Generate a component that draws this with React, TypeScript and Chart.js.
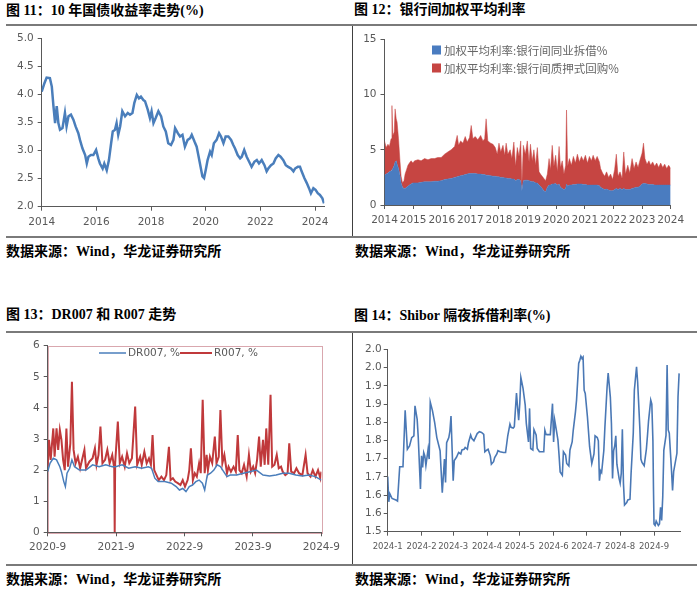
import React, { useEffect, useRef } from "react";
import { Chart, registerables } from "chart.js";
Chart.register(...registerables);

// ---------------- 图 11：10 年国债收益率 ----------------
const bondYears = [
  2014.0, 2014.1, 2014.18, 2014.3, 2014.37, 2014.43, 2014.49, 2014.55, 2014.61, 2014.67, 2014.76, 2014.85, 2014.91, 2014.98,
  2015.07, 2015.16, 2015.24, 2015.34, 2015.4, 2015.49, 2015.59, 2015.65, 2015.71, 2015.8, 2015.89, 2015.99,
  2016.07, 2016.13, 2016.23, 2016.29, 2016.38, 2016.46, 2016.54, 2016.6, 2016.68, 2016.74, 2016.8, 2016.87, 2016.95,
  2017.05, 2017.15, 2017.23, 2017.32, 2017.39, 2017.48, 2017.56, 2017.63, 2017.72, 2017.78, 2017.88, 2017.96,
  2018.02, 2018.09, 2018.17, 2018.27, 2018.37, 2018.45, 2018.54, 2018.63, 2018.73, 2018.82, 2018.88, 2018.98,
  2019.06, 2019.15, 2019.24, 2019.34, 2019.43, 2019.49, 2019.59, 2019.67, 2019.73, 2019.79, 2019.88, 2019.94,
  2020.0, 2020.07, 2020.16, 2020.22, 2020.3, 2020.4, 2020.49, 2020.56, 2020.65, 2020.73, 2020.83, 2020.93,
  2021.01, 2021.07, 2021.17, 2021.26, 2021.32, 2021.41, 2021.5, 2021.59, 2021.68, 2021.78, 2021.87, 2021.95,
  2022.05, 2022.15, 2022.23, 2022.29, 2022.39, 2022.48, 2022.56, 2022.66, 2022.74, 2022.84, 2022.93,
  2023.02, 2023.12, 2023.21, 2023.27, 2023.37, 2023.45, 2023.51, 2023.61, 2023.7, 2023.78, 2023.85, 2023.94,
  2024.02, 2024.1, 2024.18, 2024.27, 2024.33,
];
const bondYield = [
  4.05, 4.2, 4.3, 4.29, 4.14, 3.79, 3.49, 3.79, 3.49, 3.37, 3.4, 3.67, 3.43, 3.61,
  3.64, 3.55, 3.43, 3.31, 3.19, 3.04, 2.92, 2.77, 2.89, 2.92, 2.92, 3.01,
  2.86, 2.77, 2.68, 2.77, 2.65, 2.83, 3.13, 3.34, 3.37, 3.49, 3.28, 3.43, 3.7,
  3.61, 3.67, 3.64, 3.67, 3.85, 3.99, 3.93, 3.96, 3.9, 3.88, 3.73, 3.58,
  3.7, 3.49, 3.58, 3.7, 3.61, 3.43, 3.34, 3.13, 3.1, 3.19, 3.4, 3.31,
  3.25, 3.28, 3.07, 3.19, 3.22, 3.28, 3.16, 3.07, 2.92, 2.77, 2.54, 2.51,
  2.65, 2.83, 2.98, 2.92, 3.13, 3.19, 3.31, 3.25, 3.13, 3.25, 3.25, 3.19,
  3.1, 3.04, 2.92, 2.86, 2.89, 3.01, 2.89, 2.8, 2.71, 2.8, 2.83, 2.77,
  2.83, 2.74, 2.63, 2.68, 2.74, 2.77, 2.86, 2.92, 2.89, 2.83, 2.74,
  2.71, 2.68, 2.63, 2.68, 2.71, 2.71, 2.63, 2.51, 2.42, 2.33, 2.24, 2.33,
  2.3, 2.24, 2.21, 2.15, 2.06,
];
const bondXTicks = [2014, 2016, 2018, 2020, 2022, 2024];
const bondYTicks = [2.0, 2.5, 3.0, 3.5, 4.0, 4.5, 5.0];

// ---------------- 图 12：银行间加权平均利率 ----------------
const ibYears = [
  2014.0, 2014.06, 2014.12, 2014.17, 2014.23, 2014.26, 2014.29, 2014.34, 2014.37, 2014.41, 2014.44, 2014.49, 2014.54,
  2014.58, 2014.63, 2014.68, 2014.72, 2014.77, 2014.82, 2014.87, 2014.93, 2014.99,
  2015.05, 2015.17, 2015.28, 2015.4, 2015.52, 2015.63, 2015.75, 2015.86, 2015.98,
  2016.1, 2016.21, 2016.33, 2016.45, 2016.54, 2016.59, 2016.66, 2016.74, 2016.82, 2016.89, 2016.97,
  2017.03, 2017.09, 2017.17, 2017.26, 2017.36, 2017.44, 2017.5, 2017.55, 2017.61, 2017.71, 2017.79, 2017.87, 2017.94,
  2018.0, 2018.06, 2018.14, 2018.2, 2018.25, 2018.31, 2018.39, 2018.45, 2018.52, 2018.58, 2018.64, 2018.7, 2018.76,
  2018.8, 2018.85, 2018.92, 2018.99,
  2019.05, 2019.1, 2019.16, 2019.22, 2019.28, 2019.34, 2019.4, 2019.45, 2019.51, 2019.57, 2019.63, 2019.69, 2019.75,
  2019.8, 2019.86, 2019.92, 2019.98,
  2020.04, 2020.1, 2020.15, 2020.21, 2020.27, 2020.33, 2020.36, 2020.4, 2020.46, 2020.53, 2020.6, 2020.67, 2020.74,
  2020.81, 2020.88, 2020.95,
  2021.02, 2021.09, 2021.16, 2021.23, 2021.29, 2021.36, 2021.43, 2021.51, 2021.55, 2021.62, 2021.69, 2021.76, 2021.83,
  2021.9, 2021.97,
  2022.04, 2022.1, 2022.16, 2022.23, 2022.3, 2022.36, 2022.42, 2022.5, 2022.57, 2022.65, 2022.72, 2022.79, 2022.86, 2022.93,
  2023.0, 2023.05, 2023.1, 2023.17, 2023.24, 2023.3, 2023.37, 2023.44, 2023.51, 2023.58, 2023.65, 2023.72, 2023.79,
  2023.86, 2023.93, 2024.0,
];
const ibLending = [
  2.7, 2.8, 2.9, 3.0, 3.1, 3.2, 3.3, 3.6, 3.9, 4.0, 3.7, 3.3, 2.7,
  2.0, 1.6, 1.5, 1.5, 1.6, 1.7, 1.8, 1.9, 2.0,
  2.0, 2.0, 2.05, 2.1, 2.1, 2.1, 2.15, 2.15, 2.2,
  2.3, 2.35, 2.4, 2.5, 2.55, 2.6, 2.65, 2.7, 2.75, 2.8, 2.85,
  2.85, 2.85, 2.85, 2.8, 2.8, 2.75, 2.75, 2.7, 2.7, 2.65, 2.6, 2.6, 2.55,
  2.55, 2.5, 2.5, 2.45, 2.45, 2.4, 2.4, 2.35, 2.35, 2.2, 2.3, 2.3, 2.2,
  1.3, 2.2, 2.25, 2.25,
  2.2, 2.15, 2.1, 2.1, 2.0, 2.0, 1.8, 1.7, 1.5, 1.3, 1.2, 1.6, 1.8,
  1.8, 1.9, 1.9, 1.95,
  1.8, 1.9, 1.6, 1.5, 1.4, 1.5, 1.9, 1.7, 1.8, 1.8, 1.85, 1.85, 1.9,
  1.9, 1.9, 1.85,
  1.85, 1.8, 1.8, 1.8, 1.8, 1.8, 1.8, 1.75, 1.6, 1.5, 1.4, 1.45, 1.35,
  1.3, 1.3,
  1.4, 1.5, 1.4, 1.5, 1.4, 1.5, 1.4, 1.4, 1.4, 1.5, 1.55, 1.6, 1.6, 1.7,
  1.9, 1.95, 1.95, 1.9, 1.85, 1.85, 1.85, 1.8, 1.8, 1.8, 1.8, 1.8, 1.8,
  1.8, 1.8, 1.8,
];
const ibRepo = [
  3.1, 2.4, 2.6, 2.3, 2.9, 5.8, 3.0, 3.0, 4.8, 3.8, 3.8, 2.7, 1.3,
  0.6, 0.4, 0.7, 1.3, 1.6, 1.9, 2.0, 2.1, 1.8,
  2.0, 2.1, 1.95, 2.1, 2.0, 2.1, 2.05, 2.15, 2.1,
  2.3, 2.45, 2.6, 2.8, 3.75, 2.8, 3.15, 2.9, 3.45, 2.9, 3.25,
  4.35, 3.15, 3.35, 3.1, 3.5, 3.05, 3.25, 5.1, 3.1, 2.95, 2.9, 2.6, 2.05,
  3.05, 2.3, 2.9, 2.05, 3.15, 2.2, 2.6, 1.85, 3.35, 1.3, 2.9, 2.1, 3.6,
  0.5, 3.2, 2.35, 3.55,
  1.7, 3.35, 1.9, 2.9, 1.6, 3.2, 1.2, 1.1, 1.1, 1.1, 1.0, 1.2, 2.4,
  1.4, 3.5, 1.6, 2.55,
  1.2, 3.4, 1.8, 2.5, 1.4, 2.1, 6.7, 1.8, 2.4, 1.8, 2.55, 1.95, 2.7,
  2.0, 2.5, 2.15,
  2.65, 2.0, 2.6, 2.2, 2.7, 2.2, 2.6, 2.15, 1.7, 1.4, 1.2, 1.55, 1.15,
  1.5, 1.0,
  1.8, 3.1, 1.2, 1.5, 1.0, 3.3, 1.4, 2.2, 1.5, 2.7, 1.75, 2.3, 1.8, 2.4,
  2.8, 3.65, 2.25, 1.8, 2.15, 1.75, 2.05, 1.7, 2.0, 1.6, 2.0, 1.6, 1.9,
  1.5, 1.8, 1.5,
];
const ibXTicks = [2014, 2015, 2016, 2017, 2018, 2019, 2020, 2021, 2022, 2023, 2024];
const ibYTicks = [0, 5, 10, 15];
const ibLabels = ["加权平均利率:银行间同业拆借%", "加权平均利率:银行间质押式回购%"];

// ---------------- 图 13：DR007 和 R007 ----------------
// x = months since 2020-9
const drMonths = [
  0.0, 0.4, 0.98, 1.55, 2.13, 2.41, 2.82, 3.1, 3.39, 3.85, 4.25, 4.71, 5.57, 6.72, 7.87, 9.02, 10.17, 11.32, 11.9,
  13.05, 14.2, 15.34, 16.49, 17.64, 18.22, 18.79, 19.37, 20.52, 21.67, 22.53, 23.1, 23.68, 24.25, 24.83, 25.4,
  25.98, 26.55, 27.13, 27.53, 27.99, 28.56, 29.14, 29.71, 30.29, 30.86, 31.44, 32.01, 33.16, 34.31, 35.46,
  36.61, 37.76, 38.91, 40.06, 41.21, 42.36, 43.51, 44.66, 45.8, 46.95, 47.99,
];
const drValues = [
  1.95, 2.22, 2.38, 2.33, 2.11, 1.95, 1.63, 1.47, 1.9, 2.06, 2.33, 2.11, 2.0, 2.0, 2.17, 2.11, 2.17, 2.11, 2.11,
  2.17, 2.06, 2.11, 2.06, 2.11, 2.06, 1.74, 1.63, 1.63, 1.58, 1.47, 1.36, 1.41, 1.31, 1.47, 1.52,
  1.63, 1.68, 1.58, 1.36, 1.84, 1.9, 2.0, 2.17, 2.11, 1.95, 1.79, 1.84, 1.84, 1.9, 1.95,
  2.0, 1.84, 1.81, 1.84, 1.9, 1.9, 1.84, 1.81, 1.84, 1.79, 1.68,
];
const rMonths = [
  0.0, 0.23, 0.52, 0.98, 1.21, 1.55, 1.84, 2.13, 2.41, 2.7, 2.99, 3.28, 3.56, 3.97, 4.25, 4.54, 4.89, 5.29, 5.69,
  6.03, 6.44, 6.72, 7.3, 7.87, 8.28, 8.56, 8.91, 9.25, 9.6, 10.06, 10.46, 10.86, 11.32, 11.67, 11.75, 11.83,
  12.3, 12.64, 13.05, 13.51, 13.91, 14.31, 14.77, 15.34, 15.69, 16.21, 16.49, 16.95, 17.36, 17.76, 18.1, 18.39,
  18.68, 19.08, 19.48, 19.94, 20.4, 20.8, 21.26, 21.55, 21.95, 22.36, 22.82, 23.28, 23.68, 24.08, 24.54, 24.83,
  25.11, 25.46, 25.8, 26.15, 26.55, 26.84, 27.18, 27.53, 27.87, 28.1, 28.45, 28.85, 29.31, 29.6, 30.0, 30.29,
  30.63, 30.98, 31.44, 31.72, 32.13, 32.59, 32.99, 33.33, 33.62, 34.02, 34.43, 34.89, 35.29, 35.63, 36.03, 36.38,
  36.72, 37.07, 37.36, 37.76, 38.05, 38.33, 38.68, 39.08, 39.37, 39.77, 40.17, 40.52, 40.92, 41.21, 41.67, 42.07,
  42.36, 42.7, 43.22, 43.62, 44.08, 44.66, 45.23, 45.57, 46.09, 46.49, 46.95, 47.41, 47.82, 47.99,
];
const rValues = [
  2.11, 2.97, 2.33, 3.34, 2.43, 3.34, 2.65, 3.29, 2.97, 2.33, 2.0, 3.34, 2.11, 2.86, 4.84, 2.65, 2.22, 2.43, 2.06,
  2.33, 2.65, 2.06, 2.27, 2.38, 2.7, 2.17, 2.49, 3.4, 2.22, 2.33, 2.65, 2.22, 2.49, 2.06, 0.0, 2.22,
  3.56, 2.22, 2.43, 2.11, 2.54, 2.22, 2.38, 4.04, 2.17, 2.43, 2.17, 2.59, 2.22, 2.38, 2.17, 3.13,
  2.0, 1.84, 1.68, 1.79, 1.68, 1.84, 2.75, 1.68, 1.74, 1.63, 1.58, 1.52, 1.68, 1.47, 1.68, 2.0,
  2.7, 1.68, 1.9, 1.79, 2.22, 1.9, 4.26, 1.9, 2.49, 2.0, 2.43, 2.22, 3.08, 2.22, 2.43, 3.93,
  2.22, 2.49, 1.9, 2.11, 1.95, 2.11, 1.95, 3.13, 2.0, 1.9, 2.17, 1.79, 2.49, 1.95, 2.11, 1.9,
  2.33, 3.08, 2.11, 2.97, 2.17, 3.34, 2.17, 4.42, 2.11, 2.17, 2.49, 2.06, 2.11, 1.95, 1.84, 1.9,
  2.86, 1.95, 1.9, 2.06, 1.9, 1.84, 2.49, 1.9, 1.79, 2.0, 1.79, 2.0, 1.74, 1.95,
];
const repoXTicks = [0, 12, 24, 36, 48];
const repoXLabels = ["2020-9", "2021-9", "2022-9", "2023-9", "2024-9"];
const repoYTicks = [0, 1, 2, 3, 4, 5, 6];
const repoLabels = ["DR007, %", "R007, %"];

// ---------------- 图 14：Shibor 隔夜 ----------------
// x = days since 2024-01-01
const shiborDays = [
  0, 1, 2, 4, 8, 9, 11, 14, 16, 18, 20, 22, 24, 25, 27, 28, 30, 31, 32, 33, 34, 35, 37, 38, 39, 41, 43, 45, 48,
  50, 51, 52, 53, 54, 56, 57, 58, 60, 61, 63, 65, 67, 68, 70, 71, 73, 74, 76, 77, 79, 80, 82, 84, 86, 88, 89,
  91, 92, 94, 95, 97, 98, 100, 101, 103, 106, 108, 110, 112, 113, 115, 116, 118, 119, 120, 121, 122, 124, 126,
  127, 129, 130, 131, 133, 134, 136, 137, 139, 140, 143, 144, 145, 146, 149, 151, 152, 153, 154, 156, 157, 158,
  160, 161, 163, 164, 166, 167, 169, 170, 172, 173, 175, 176, 177, 178, 179, 180, 181, 183, 185, 187, 189, 190,
  192, 193, 194, 195, 196, 198, 199, 201, 202, 204, 205, 206, 207, 208, 209, 210, 212, 213, 214, 215, 216, 217,
  219, 220, 222, 223, 225, 226, 228, 229, 231, 232, 233, 235, 237, 238, 239, 241, 242, 243, 243.5, 244, 245,
  246, 248, 249, 250, 251, 252, 253, 255, 256, 257, 258, 260, 261, 262, 265, 266, 267,
];
const shiborRates = [
  1.651, 1.582, 1.604, 1.591, 1.586, 1.584, 1.678, 1.678, 1.833, 1.726, 1.735, 1.758, 1.763, 1.845, 1.808, 1.758,
  1.617, 1.708, 1.676, 1.717, 1.708, 1.681, 1.726, 1.699, 1.855, 1.832, 1.8, 1.758, 1.722,
  1.607, 1.653, 1.699, 1.635, 1.744, 1.758, 1.776, 1.817, 1.64, 1.695, 1.704, 1.717, 1.713, 1.724, 1.726, 1.731,
  1.726, 1.744, 1.765, 1.756, 1.749, 1.756, 1.769, 1.774, 1.772, 1.767, 1.719,
  1.724, 1.726, 1.708, 1.685, 1.692, 1.703, 1.713, 1.722, 1.719, 1.717, 1.717, 1.763, 1.795, 1.786, 1.784, 1.788,
  1.88, 1.841, 1.806, 1.85, 1.923, 1.893, 1.847,
  1.797, 1.746, 1.838, 1.728, 1.724, 1.78, 1.765, 1.728, 1.719, 1.719, 1.719, 1.778, 1.767, 1.766, 1.766, 1.851,
  1.746, 1.806, 1.788, 1.751, 1.71, 1.664,
  1.655, 1.719, 1.71, 1.687, 1.68, 1.724, 1.746, 1.778, 1.828, 1.86, 1.961, 1.97, 1.981, 1.975, 1.979, 1.888,
  1.879, 1.815, 1.733, 1.687, 1.713, 1.763,
  1.758, 1.749, 1.64, 1.667, 1.662, 1.722, 1.786, 1.896, 1.935, 1.869, 1.795, 1.646, 1.722, 1.735, 1.763, 1.685,
  1.646, 1.633, 1.66, 1.781, 1.633, 1.573,
  1.58, 1.587, 1.589, 1.66, 1.77, 1.888, 1.952, 1.911, 1.786, 1.699, 1.69, 1.681, 1.726, 1.763, 1.804, 1.861,
  1.85, 1.749, 1.621, 1.521, 1.517,
  1.529, 1.517, 1.521, 1.567, 1.531, 1.595, 1.723, 1.764, 1.957, 1.779, 1.77, 1.67, 1.613, 1.665, 1.715, 1.87, 1.934,
];
const shiborXTicks = [0, 31, 60, 91, 121, 152, 182, 213, 244];
const shiborXLabels = ["2024-1", "2024-2", "2024-3", "2024-4", "2024-5", "2024-6", "2024-7", "2024-8", "2024-9"];
const shiborYTicks = [1.5, 1.55, 1.6, 1.65, 1.7, 1.75, 1.8, 1.85, 1.9, 1.95, 2.0];
const shiborYLabels = ["1.5", "1.6", "1.6", "1.7", "1.7", "1.8", "1.8", "1.9", "1.9", "2.0", "2.0"];

// ---------------- styling ----------------
const AXIS = "#595959";
const TICK = "#595959";
const BLUE = "#4a7ebb";
const RED = "#c0504d";
const TICK_FONT = "'DejaVu Sans', Verdana, sans-serif";

type ScaleOpts = {
  min: number; max: number; ticks: number[]; labels?: string[]; fmt?: (v: number) => string;
  isY: boolean; fixed: number; pad: number; fontSize: number; stacked?: boolean;
};

function makeScale(o: ScaleOpts) {
  return {
    type: "linear",
    position: o.isY ? "left" : "bottom",
    min: o.min,
    max: o.max,
    stacked: o.stacked || false,
    afterBuildTicks: (s: any) => { s.ticks = o.ticks.map((v) => ({ value: v })); },
    afterFit: (s: any) => { if (o.isY) s.width = o.fixed; else s.height = o.fixed; },
    border: { display: true, color: AXIS, width: 1 },
    grid: { display: true, drawOnChartArea: false, drawTicks: true, tickLength: 4, color: AXIS, lineWidth: 1 },
    ticks: {
      autoSkip: false, maxRotation: 0, minRotation: 0, padding: o.pad, color: TICK,
      font: { family: TICK_FONT, size: o.fontSize },
      callback: (v: any, i: number) => (o.labels ? o.labels[i] : o.fmt ? o.fmt(Number(v)) : String(v)),
    },
  };
}

const pts = (xs: number[], ys: number[]) => xs.map((x, i) => ({ x, y: ys[i] }));

// legend drawn inside the plot area
const insideLegend = {
  id: "insideLegend",
  afterDraw(chart: any, _a: any, opts: any) {
    if (!opts || !opts.items) return;
    const ctx = chart.ctx;
    ctx.save();
    ctx.font = opts.font;
    ctx.textBaseline = "middle";
    chart.data.datasets.forEach((ds: any, i: number) => {
      const it = opts.items[i];
      if (!it) return;
      const col = ds.borderColor;
      if (opts.kind === "box") {
        ctx.fillStyle = ds.backgroundColor;
        ctx.fillRect(it.x, it.y - 4.5, 9, 9);
        ctx.fillStyle = opts.color;
        ctx.fillText(ds.label, it.x + 12, it.y + 0.5);
      } else {
        ctx.strokeStyle = col;
        ctx.lineWidth = ds.borderWidth;
        ctx.beginPath();
        ctx.moveTo(it.x, it.y);
        ctx.lineTo(it.x + it.w, it.y);
        ctx.stroke();
        ctx.fillStyle = opts.color;
        ctx.fillText(ds.label, it.x + it.w + 2, it.y + 0.5);
      }
    });
    ctx.restore();
  },
};

const plotFrame = {
  id: "plotFrame",
  beforeDraw(chart: any, _a: any, opts: any) {
    if (!opts || !opts.color) return;
    const { left, top, right, bottom } = chart.chartArea;
    const ctx = chart.ctx;
    ctx.save();
    ctx.strokeStyle = opts.color;
    ctx.lineWidth = 1;
    ctx.strokeRect(Math.round(left) + 0.5, Math.round(top) + 0.5, Math.round(right - left), Math.round(bottom - top));
    ctx.restore();
  },
};

Chart.register(insideLegend, plotFrame);

const basePlugins = {
  legend: { display: false },
  tooltip: { enabled: false },
  title: { display: false },
};

function cfgBond(): any {
  return {
    type: "line",
    data: {
      datasets: [{
        label: "10年国债收益率",
        data: pts(bondYears, bondYield),
        borderColor: BLUE, borderWidth: 2.5, pointRadius: 0, tension: 0, fill: false,
      }],
    },
    options: {
      responsive: false, animation: false, devicePixelRatio: 1,
      layout: { padding: { left: 0, top: 10.3, right: 20.7, bottom: 0 } },
      plugins: basePlugins,
      scales: {
        x: makeScale({ min: 2014, max: 2024.34, ticks: bondXTicks, isY: false, fixed: 28.3, pad: 5, fontSize: 10.5 }),
        y: makeScale({ min: 2, max: 5, ticks: bondYTicks, fmt: (v) => v.toFixed(1), isY: true, fixed: 41.7, pad: 4, fontSize: 10.5 }),
      },
    },
  };
}

function cfgInterbank(): any {
  return {
    type: "line",
    data: {
      datasets: [
        {
          label: ibLabels[0], data: pts(ibYears, ibLending),
          borderColor: "#4a7cc0", backgroundColor: "#4a7cc0", borderWidth: 0.5, pointRadius: 0, tension: 0, fill: "origin",
        },
        {
          label: ibLabels[1], data: pts(ibYears, ibRepo),
          borderColor: "#c64542", backgroundColor: "#c64542", borderWidth: 0.5, pointRadius: 0, tension: 0, fill: "-1",
        },
      ],
    },
    options: {
      responsive: false, animation: false, devicePixelRatio: 1,
      layout: { padding: { left: 0, top: 11.3, right: 29.3, bottom: 0 } },
      plugins: {
        ...basePlugins,
        insideLegend: {
          kind: "box", font: "11.5px 'Noto Sans CJK SC', sans-serif", color: "#666666",
          items: [{ x: 77, y: 22 }, { x: 77, y: 40 }],
        },
      },
      scales: {
        x: makeScale({ min: 2014, max: 2024, ticks: ibXTicks, isY: false, fixed: 30, pad: 5, fontSize: 10.5 }),
        y: makeScale({ min: 0, max: 15, ticks: ibYTicks, isY: true, fixed: 29.5, pad: 4, fontSize: 10.5, stacked: true }),
      },
    },
  };
}

function cfgRepo(): any {
  return {
    type: "line",
    data: {
      datasets: [
        {
          label: repoLabels[0], data: pts(drMonths, drValues),
          borderColor: "#4a7ebb", borderWidth: 1.5, pointRadius: 0, tension: 0, fill: false,
        },
        {
          label: repoLabels[1], data: pts(rMonths, rValues),
          borderColor: "#c0393b", borderWidth: 2, pointRadius: 0, tension: 0, fill: false,
        },
      ],
    },
    options: {
      responsive: false, animation: false, devicePixelRatio: 1,
      layout: { padding: { left: 0, top: 10.7, right: 19, bottom: 0 } },
      plugins: {
        ...basePlugins,
        plotFrame: { color: "#d9a7ae" },
        insideLegend: {
          kind: "line", font: "10.5px 'DejaVu Sans', sans-serif", color: "#595959",
          items: [{ x: 99, y: 18, w: 27 }, { x: 180, y: 18, w: 32 }],
        },
      },
      scales: {
        x: makeScale({ min: 0, max: 48, ticks: repoXTicks, labels: repoXLabels, isY: false, fixed: 30.7, pad: 5, fontSize: 10.5 }),
        y: makeScale({ min: 0, max: 6, ticks: repoYTicks, isY: true, fixed: 47.7, pad: 4, fontSize: 10.5 }),
      },
    },
  };
}

function cfgShibor(): any {
  return {
    type: "line",
    data: {
      datasets: [{
        label: "Shibor隔夜", data: pts(shiborDays, shiborRates),
        borderColor: "#4a78b5", borderWidth: 1.6, pointRadius: 0, tension: 0, fill: false,
      }],
    },
    options: {
      responsive: false, animation: false, devicePixelRatio: 1,
      layout: { padding: { left: 0, top: 14.3, right: 19.8, bottom: 0 } },
      plugins: basePlugins,
      scales: {
        x: makeScale({ min: 0, max: 268, ticks: shiborXTicks, labels: shiborXLabels, isY: false, fixed: 31.3, pad: 6, fontSize: 8.5 }),
        y: makeScale({ min: 1.5, max: 2.0, ticks: shiborYTicks, labels: shiborYLabels, isY: true, fixed: 32.7, pad: 2, fontSize: 10.5 }),
      },
    },
  };
}

function ChartBox(props: { left: number; top: number; width: number; height: number; build: () => any }) {
  const ref = useRef<HTMLCanvasElement>(null);
  useEffect(() => {
    const chart = new Chart(ref.current as HTMLCanvasElement, props.build());
    return () => chart.destroy();
  }, []);
  return (
    <canvas
      ref={ref}
      width={props.width}
      height={props.height}
      style={{ position: "absolute", left: props.left, top: props.top, width: props.width, height: props.height }}
    />
  );
}

const textFont = "'Liberation Serif', 'Noto Sans CJK SC', serif";

function Label(props: { left: number; top: number; text: string }) {
  return (
    <div
      style={{
        position: "absolute", left: props.left, top: props.top, fontFamily: textFont, fontWeight: 700,
        fontSize: 14, lineHeight: "20px", color: "#000", whiteSpace: "nowrap",
      }}
    >
      {props.text}
    </div>
  );
}

function Rule(props: { left: number; top: number; width: number; height: number; color: string }) {
  return (
    <div style={{ position: "absolute", left: props.left, top: props.top, width: props.width, height: props.height, background: props.color }} />
  );
}

export default function App() {
  return (
    <div style={{ position: "absolute", left: 0, top: 0, width: 700, height: 595, background: "#fff", overflow: "hidden" }}>
      <Label left={6} top={0.5} text="图 11：10 年国债收益率走势(%)" />
      <Label left={354} top={0} text="图 12：银行间加权平均利率" />
      <Label left={6} top={305} text="图 13：DR007 和 R007 走势" />
      <Label left={354} top={306} text="图 14：Shibor 隔夜拆借利率(%)" />

      <Rule left={6} top={24} width={691} height={2} color="#7a7a7a" />
      <Rule left={6} top={236} width={691} height={2} color="#7a7a7a" />
      <Rule left={6} top={331} width={691} height={2} color="#7a7a7a" />
      <Rule left={6} top={564} width={691} height={2} color="#7a7a7a" />
      <Rule left={352} top={26} width={1} height={210} color="#404040" />
      <Rule left={352} top={333} width={1} height={231} color="#404040" />

      <ChartBox left={0} top={28} width={345} height={207} build={cfgBond} />
      <ChartBox left={355} top={28} width={345} height={207} build={cfgInterbank} />
      <ChartBox left={0} top={335} width={345} height={228} build={cfgRepo} />
      <ChartBox left={355} top={335} width={345} height={228} build={cfgShibor} />

      <Label left={6} top={242} text="数据来源：Wind，华龙证券研究所" />
      <Label left={355} top={242} text="数据来源：Wind，华龙证券研究所" />
      <Label left={6} top={570} text="数据来源：Wind，华龙证券研究所" />
      <Label left={355} top={570} text="数据来源：Wind，华龙证券研究所" />
    </div>
  );
}
